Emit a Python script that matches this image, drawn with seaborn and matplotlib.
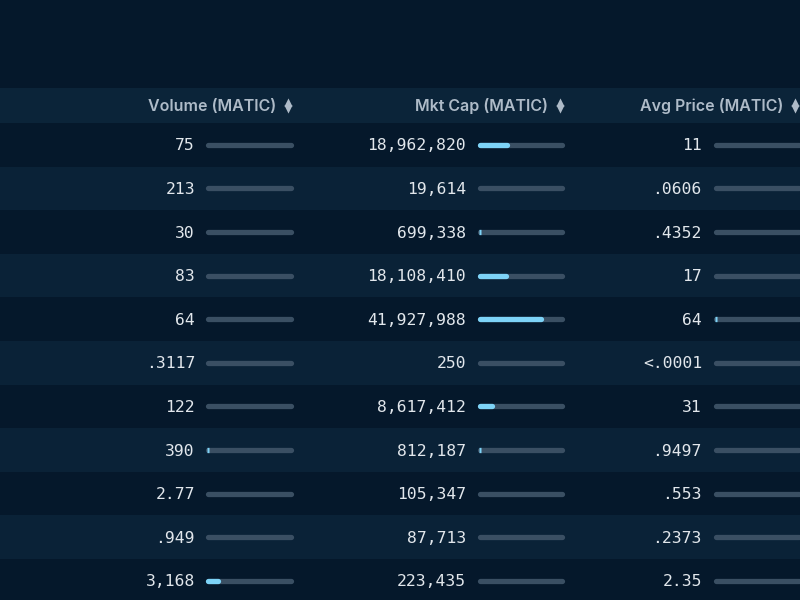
import numpy as np
import matplotlib
matplotlib.use("Agg")
import matplotlib.pyplot as plt
import seaborn as sns

# Dados da tabela
volume_labels = ["75", "213", "30", "83", "64", ".3117", "122", "390", "2.77", ".949", "3,168"]
volume = [75, 213, 30, 83, 64, 0.3117, 122, 390, 2.77, 0.949, 3168]
volume_max = 26000

mktcap_labels = ["18,962,820", "19,614", "699,338", "18,108,410", "41,927,988", "250",
                 "8,617,412", "812,187", "105,347", "87,713", "223,435"]
mktcap = [18962820, 19614, 699338, 18108410, 41927988, 250, 8617412, 812187, 105347, 87713, 223435]
mktcap_max = 56000000

avg_labels = ["11", ".0606", ".4352", "17", "64", "<.0001", "31", ".9497", ".553", ".2373", "2.35"]
avg_price = [11, 0.0606, 0.4352, 17, 64, 0.0001, 31, 0.9497, 0.553, 0.2373, 2.35]
avg_max = 5000

headers = ["Volume (MATIC)", "Mkt Cap (MATIC)", "Avg Price (MATIC)"]

# Cores
cor_fundo = "#05182b"
cor_header = "#0b2439"
cor_linha_clara = "#0a2237"
cor_trilho = "#3a4f63"
cor_barra = "#7dd3f7"
cor_texto = "#e2e7ec"
cor_header_txt = "#aebbc8"

sns.set_theme(style="dark")
plt.rcParams["font.family"] = ["Inter", "DejaVu Sans"]

fig = plt.figure(figsize=(8, 6), dpi=100)
fig.patch.set_facecolor(cor_fundo)

# Eixo de fundo em coordenadas de pixel
bg = fig.add_axes([0, 0, 1, 1])
bg.set_xlim(0, 800)
bg.set_ylim(600, 0)
bg.axis("off")
bg.set_facecolor(cor_fundo)

n = len(volume)
topo = 123
h = 43.6
bg.axhspan(88, topo, color=cor_header, lw=0)
for i in range(n):
    cor = cor_linha_clara if i % 2 else cor_fundo
    bg.axhspan(topo + h * i, topo + h * (i + 1), color=cor, lw=0)

colunas = [
    # header, x header, x seta, x numero, trilho x0, x1, valores, labels, max
    (headers[0], 276, 288, 195, 207.5, 290.5, volume, volume_labels, volume_max),
    (headers[1], 548, 560, 466, 479.5, 561.5, mktcap, mktcap_labels, mktcap_max),
    (headers[2], 783, 795, 702, 715.5, 798.5, avg_price, avg_labels, avg_max),
]

linhas = np.arange(n)
for titulo, xh, xs, xn, x0, x1, valores, labels, vmax in colunas:
    bg.text(xh, 111, titulo, ha="right", va="baseline", fontsize=11.5,
            fontweight="semibold", color=cor_header_txt)
    bg.scatter([xs], [101.5], marker="^", s=34, color=cor_header_txt, lw=0)
    bg.scatter([xs], [108.5], marker="v", s=34, color=cor_header_txt, lw=0)
    for i, lab in enumerate(labels):
        bg.text(xn, topo + h * (i + 0.5) + 5.5, lab, ha="right", va="baseline",
                fontsize=11.8, family="DejaVu Sans Mono", color=cor_texto)

    ax = fig.add_axes([x0 / 800, 1 - (topo + h * n) / 600, (x1 - x0) / 800, h * n / 600])
    ax.set_xlim(0, vmax)
    ax.set_ylim(n - 0.5, -0.5)
    ax.axis("off")
    ax.patch.set_alpha(0)
    vals = np.array(valores, dtype=float)
    frac = vals / vmax
    ax.hlines(linhas, 0, vmax, color=cor_trilho, lw=3.8, capstyle="round", clip_on=False)
    # barras maiores com ponta arredondada, pequenas só como um ponto fino
    grande = frac >= 0.05
    pequena = (frac >= 0.01) & ~grande
    ax.hlines(linhas[grande], 0, vals[grande], color=cor_barra, lw=3.8, capstyle="round",
              clip_on=False, zorder=3)
    ax.hlines(linhas[pequena], -0.01 * vmax, vals[pequena], color=cor_barra, lw=3.8,
              capstyle="butt", clip_on=False, zorder=3)

fig.savefig("out.png", dpi=100, facecolor=cor_fundo)
